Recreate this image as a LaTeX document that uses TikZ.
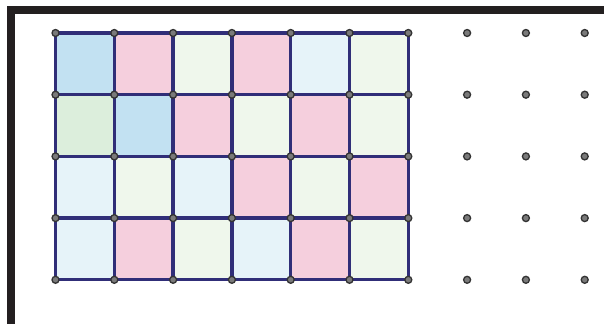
\documentclass[tikz,border=0pt]{standalone}
\usetikzlibrary{calc}
\definecolor{frame}{HTML}{231F20}
\definecolor{gridline}{HTML}{302E78}
\definecolor{cB}{HTML}{C2E1F2}
\definecolor{cP}{HTML}{F5CFDD}
\definecolor{cG}{HTML}{DCEEDC}
\definecolor{cLB}{HTML}{E6F3F9}
\definecolor{cLG}{HTML}{EFF7EC}
\definecolor{dotfill}{HTML}{7A7A7A}
\definecolor{dotline}{HTML}{333333}
\tikzset{
  gridln/.style={draw=gridline, line width=3.3pt, line cap=round},
  griddot/.style={circle, draw=dotline, fill=dotfill, line width=1.3pt, inner sep=0pt, minimum size=7pt},
  framebar/.style={fill=frame, draw=none}
}
\begin{document}
\begin{tikzpicture}[x=1pt,y=-1pt]
\useasboundingbox (0,0) rectangle (604,324);
\fill[white] (0,0) rectangle (604,324);
% frame
\fill[framebar] (7,6) rectangle (604,14);
\fill[framebar] (7,6) rectangle (15,324);
% grid coordinates
\foreach \i in {0,...,9}{
  \foreach \j in {0,...,4}{
    \coordinate (p-\i-\j) at ({55.5+58.8*\i},{33+61.7*\j});
  }
}
% cell colours (row by row)
\def\cellfill#1#2#3{\fill[#3] (p-#1-#2) rectangle ($(p-#1-#2)+(58.8,61.7)$);}
% row 0
\cellfill{0}{0}{cB}\cellfill{1}{0}{cP}\cellfill{2}{0}{cLG}\cellfill{3}{0}{cP}\cellfill{4}{0}{cLB}\cellfill{5}{0}{cLG}
% row 1
\cellfill{0}{1}{cG}\cellfill{1}{1}{cB}\cellfill{2}{1}{cP}\cellfill{3}{1}{cLG}\cellfill{4}{1}{cP}\cellfill{5}{1}{cLG}
% row 2
\cellfill{0}{2}{cLB}\cellfill{1}{2}{cLG}\cellfill{2}{2}{cLB}\cellfill{3}{2}{cP}\cellfill{4}{2}{cLG}\cellfill{5}{2}{cP}
% row 3
\cellfill{0}{3}{cLB}\cellfill{1}{3}{cP}\cellfill{2}{3}{cLG}\cellfill{3}{3}{cLB}\cellfill{4}{3}{cP}\cellfill{5}{3}{cLG}
% grid lines
\foreach \j in {0,...,4}{ \draw[gridln] (p-0-\j) -- (p-6-\j); }
\foreach \i in {0,...,6}{ \draw[gridln] (p-\i-0) -- (p-\i-4); }
% dots
\foreach \i in {0,...,9}{
  \foreach \j in {0,...,4}{
    \node[griddot] (d-\i-\j) at (p-\i-\j) {};
  }
}
\end{tikzpicture}
\end{document}
